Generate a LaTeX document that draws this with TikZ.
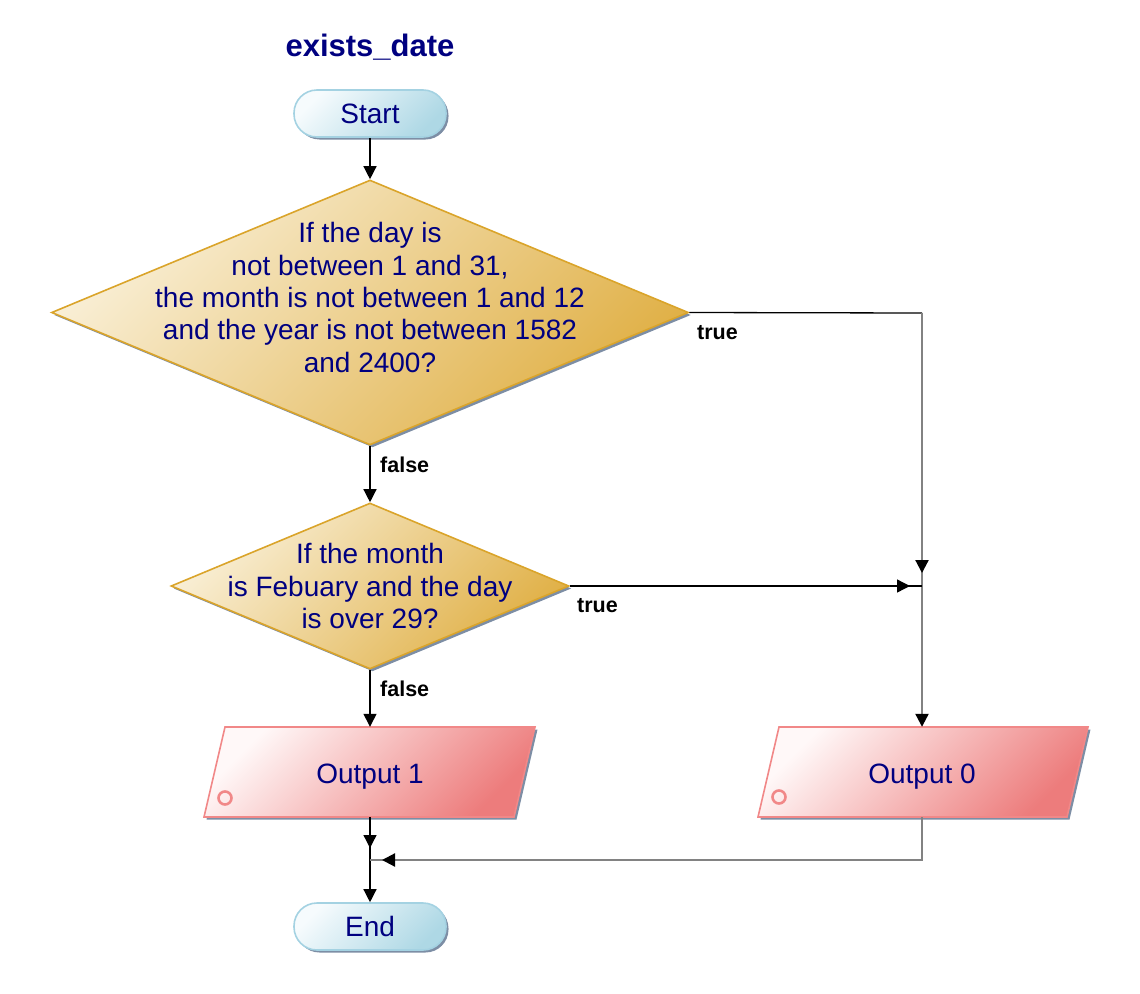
\documentclass[tikz,border=0pt]{standalone}
\usepackage{fontspec}
\setmainfont{Liberation Sans}
\usetikzlibrary{shapes.geometric,arrows.meta,shadows,calc}
\definecolor{navy}{RGB}{0,0,128}
\definecolor{termA}{RGB}{246,251,253}
\definecolor{termB}{RGB}{174,216,229}
\definecolor{termb}{RGB}{164,210,226}
\definecolor{diaA}{RGB}{249,239,214}
\definecolor{diaB}{RGB}{224,176,70}
\definecolor{diab}{RGB}{218,164,42}
\definecolor{outA}{RGB}{255,248,248}
\definecolor{outB}{RGB}{237,124,124}
\definecolor{outb}{RGB}{241,136,136}
\definecolor{shad}{RGB}{125,142,165}
\definecolor{glin}{RGB}{130,130,130}
\newcommand{\fsz}{\fontsize{28}{32.3}\selectfont}
\newcommand{\lsz}{\fontsize{21.5}{24}\selectfont\bfseries}
\tikzset{
  myshadow/.style={drop shadow={shadow xshift=2.5pt, shadow yshift=-2.5pt, fill=shad, opacity=1}},
  term/.style={rectangle, rounded corners=23pt, minimum width=152pt, minimum height=47pt,
    inner sep=0pt, draw=termb, line width=1.6pt, top color=termA, bottom color=termB,
    shading angle=45, myshadow, text=navy, font=\fsz},
  dia/.style={diamond, inner sep=0pt, draw=diab, line width=1.6pt, top color=diaA,
    bottom color=diaB, shading angle=45, myshadow},
  dtext/.style={inner sep=0pt, align=center, text=navy, font=\fsz},
  outshape/.style={draw=outb, line width=1.6pt, top color=outA, bottom color=outB,
    shading angle=45, myshadow},
  otext/.style={inner sep=0pt, minimum height=90pt, minimum width=250pt, text height=27pt,
    text depth=5pt, text=navy, font=\fsz},
  circ/.style={draw=outb, line width=2.6pt},
  line/.style={draw=black, line width=1.3pt},
  gline/.style={draw=glin, line width=2.2pt},
  arr/.style={-{Triangle[length=13pt,width=13pt,color=black]}},
  lbl/.style={inner sep=0pt, anchor=west, font=\lsz, text=black},
}
\begin{document}
\begin{tikzpicture}[x=1pt,y=-1pt]
\useasboundingbox (0,0) rectangle (1140,993);

% title
\node[inner sep=0pt, text=navy, font=\fontsize{31}{34}\selectfont\bfseries] (title) at (370,47.5) {exists\_date};

% terminals
\node[term] (start) at (370,113.5) {Start};
\node[term] (end) at (370,926.5) {End};

% decisions
\node[dia, minimum width=637pt, minimum height=265pt] (d1) at (370,312.5) {};
\node[dtext] (d1t) at (370,297.5) {If the day is\\not between 1 and 31,\\the month is not between 1 and 12\\and the year is not between 1582\\and 2400?};
\node[dia, minimum width=398pt, minimum height=166pt] (d2) at (370,586) {};
\node[dtext] (d2t) at (370,586) {If the month\\is Febuary and the day\\is over 29?};

% outputs
\path[outshape] (225,727) -- (535,727) -- (514,817) -- (204,817) -- cycle;
\draw[circ] (225,798) circle[radius=6.5];
\node[otext] (o1) at (370,772) {Output 1};
\path[outshape] (779,727) -- (1088,727) -- (1067,817) -- (758,817) -- cycle;
\draw[circ] (779,797) circle[radius=6.5];
\node[otext] (o0) at (922,772) {Output 0};

% helper coordinates
\coordinate (c1) at (922,313);
\coordinate (j1) at (922,586);
\coordinate (ta) at (922,573);
\coordinate (tb) at (910,586);
\coordinate (j2) at (370,860);
\coordinate (tc) at (370,848);
\coordinate (c2) at (922,860);
\coordinate (td) at (382,860);

% connectors
\draw[line,arr] (start.south) -- (d1.north);
\draw[line,arr] (d1.south) -- (d2.north);
\draw[line] (d1.east) -- (c1);
\draw[gline] (c1) -- (j1);
\draw[gline,arr] (c1) -- (ta);
\draw[gline,arr] (j1) -- (o0.north);
\draw[line] (d2.east) -- (j1);
\draw[line,arr] (d2.east) -- (tb);
\draw[line,arr] (d2.south) -- (o1.north);
\draw[line] (o1.south) -- (j2);
\draw[line,arr] (o1.south) -- (tc);
\draw[line,arr] (j2) -- (end.north);
\draw[gline] (o0.south) -- (c2) -- (j2);
\draw[gline,arr] (c2) -- (td);

% labels
\node[lbl] (t1) at (697,333) {true};
\node[lbl] (f1) at (380,465) {false};
\node[lbl] (t2) at (577,606) {true};
\node[lbl] (f2) at (380,689) {false};
\end{tikzpicture}
\end{document}
